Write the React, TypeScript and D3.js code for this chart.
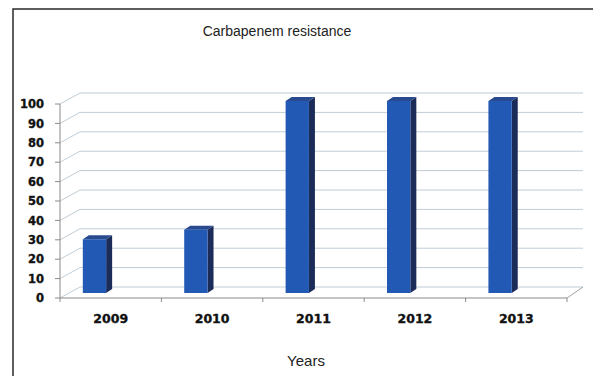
import React from "react";
import * as d3 from "d3";

// Carbapenem resistance (%) by year
const years = ["2009", "2010", "2011", "2012", "2013"];
const resistance = [28, 33, 100, 100, 100];
const yTicks = [0, 10, 20, 30, 40, 50, 60, 70, 80, 90, 100];

const W = 593;
const H = 376;

// pseudo-3D frame: front plane, bar plane and back wall
const x = d3.scaleBand<string>().domain(years).range([60, 567]).padding(0);
const yFront = d3.scaleLinear().domain([0, 100]).range([298, 104]);
const yBar = d3.scaleLinear().domain([0, 100]).range([293, 101]);
const yBack = d3.scaleLinear().domain([0, 100]).range([287, 93]);
const backLeft = 80;
const backRight = 583;
const depthX = 6;
const depthY = 4;

const colors = {
  front: "#2259b5",
  side: "#1c2c58",
  top: "#2a4a8f",
  grid: "#bfcdd6",
  axis: "#8a8a8a",
  text: "#111",
};

export default function App() {
  const bw = x.bandwidth();
  const barW = bw * 0.23;
  return (
    <svg
      width={W}
      height={H}
      style={{ position: "absolute", left: 0, top: 0, background: "#fff" }}
    >
      <rect x={13} y={9} width={700} height={500} fill="#fff" stroke="#2a2a2a" strokeWidth={1.5} />

      <text x={277} y={36} textAnchor="middle" fontFamily="Liberation Sans, Arial, sans-serif" fontSize={14} fill="#222">
        Carbapenem resistance
      </text>

      {/* back wall gridlines and left wall diagonals */}
      {yTicks.map((t) => (
        <g key={t}>
          <line x1={backLeft} x2={backRight} y1={yBack(t)} y2={yBack(t)} stroke={colors.grid} strokeWidth={1} />
          <line x1={60} y1={yFront(t)} x2={backLeft} y2={yBack(t)} stroke={colors.grid} strokeWidth={1} />
          <line x1={55} x2={60} y1={yFront(t)} y2={yFront(t)} stroke={colors.axis} strokeWidth={1} />
          <text
            x={44}
            y={yFront(t)}
            dy="0.36em"
            textAnchor="end"
            fontFamily="DejaVu Sans, sans-serif"
            fontWeight={900}
            fontSize={11.5}
            stroke={colors.text}
            strokeWidth={0.35}
            fill={colors.text}
          >
            {t}
          </text>
        </g>
      ))}

      {/* floor edges */}
      <line x1={567} y1={yFront(0)} x2={backRight} y2={yBack(0)} stroke={colors.axis} strokeWidth={0.8} />
      <line x1={60} x2={60} y1={yFront(0)} y2={yFront(100)} stroke={colors.axis} strokeWidth={1} />
      <line x1={60} x2={567} y1={yFront(0)} y2={yFront(0)} stroke={colors.axis} strokeWidth={1} />
      {[...years.map((d) => x(d) as number), 567].map((v, i) => (
        <line key={i} x1={v} x2={v} y1={yFront(0)} y2={yFront(0) + 4} stroke={colors.axis} strokeWidth={1} />
      ))}

      {/* columns */}
      {years.map((d, i) => {
        const x0 = (x(d) as number) + bw * 0.225;
        const x1 = x0 + barW;
        const top = yBar(resistance[i]);
        const base = yBar(0);
        return (
          <g key={d}>
            <path
              d={`M${x1},${top} L${x1 + depthX},${top - depthY} L${x1 + depthX},${base - depthY} L${x1},${base} Z`}
              fill={colors.side}
            />
            <path
              d={`M${x0},${top} L${x0 + depthX},${top - depthY} L${x1 + depthX},${top - depthY} L${x1},${top} Z`}
              fill={colors.top}
            />
            <rect x={x0} y={top} width={barW} height={base - top} fill={colors.front} />
          </g>
        );
      })}

      {/* category labels */}
      {years.map((d) => (
        <text
          key={d}
          x={(x(d) as number) + bw / 2}
          y={323}
          textAnchor="middle"
          fontFamily="DejaVu Sans, sans-serif"
          fontWeight={900}
          fontSize={12.5}
          stroke={colors.text}
          strokeWidth={0.35}
          fill={colors.text}
        >
          {d}
        </text>
      ))}

      <text x={306} y={366} textAnchor="middle" fontFamily="Liberation Sans, Arial, sans-serif" fontSize={15} fill="#222">
        Years
      </text>
    </svg>
  );
}
